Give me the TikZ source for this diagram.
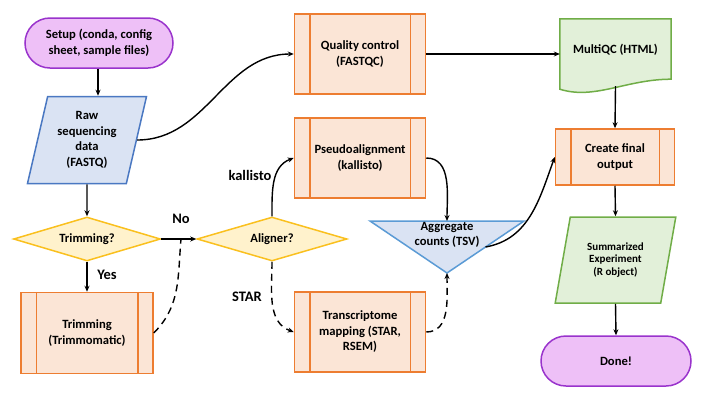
\documentclass[tikz,border=0pt]{standalone}
\usepackage{fontspec}
\setmainfont{Carlito}
\usetikzlibrary{shapes.geometric,shapes.misc,arrows.meta}
\definecolor{termfill}{RGB}{238,192,247}
\definecolor{termline}{RGB}{153,51,204}
\definecolor{datafill}{RGB}{218,227,243}
\definecolor{dataline}{RGB}{74,120,194}
\definecolor{askfill}{RGB}{255,242,204}
\definecolor{askline}{RGB}{250,192,30}
\definecolor{procfill}{RGB}{251,229,214}
\definecolor{procline}{RGB}{237,125,49}
\definecolor{greenfill}{RGB}{226,240,217}
\definecolor{greenline}{RGB}{112,173,71}
\definecolor{aggline}{RGB}{91,155,213}
\begin{document}
\begin{tikzpicture}[x=1pt,y=-1pt,
  every node/.style={font=\fontsize{12.6}{15.5}\selectfont\bfseries, align=center},
  box/.style={line width=1.5pt, inner sep=0pt},
  term/.style={box, rounded rectangle, draw=termline, fill=termfill},
  data/.style={box, trapezium, trapezium left angle=75, trapezium right angle=105, trapezium stretches=true},
  ask/.style={box, diamond, aspect=3, draw=askline, fill=askfill},
  proc/.style={box, rectangle, draw=procline, fill=procfill},
  lbl/.style={font=\fontsize{14.5}{16}\selectfont\bfseries},
  flow/.style={line width=1.4pt, ->},
  maybe/.style={flow, dash pattern=on 7pt off 5pt},
  >={Stealth[length=6pt,width=5pt]}]
  \useasboundingbox (0,0) rectangle (720,405);

  \node[term, minimum width=148, minimum height=50] (setup) at (99,43) {Setup (conda, config\\sheet, sample files)};
  \node[data, draw=dataline, fill=datafill, minimum width=120, minimum height=87] (raw) at (87,140) {Raw\\sequencing\\data\\(FASTQ)};
  \node[ask, minimum width=147, minimum height=44] (trimq) at (87,239) {Trimming?};
  \node[ask, minimum width=150, minimum height=44] (alignq) at (272,239) {Aligner?};
  \node[proc, minimum width=132, minimum height=81] (trim) at (87,333) {Trimming\\(Trimmomatic)};
  \node[proc, minimum width=131, minimum height=80] (qc) at (360,54) {Quality control\\(FASTQC)};
  \node[proc, minimum width=131, minimum height=80] (pseudo) at (360,158) {Pseudoalignment\\(kallisto)};
  \node[proc, minimum width=131, minimum height=80] (tx) at (360,332) {Transcriptome\\mapping (STAR,\\RSEM)};
  \node[proc, minimum width=119, minimum height=56] (final) at (615,157) {Create final\\output};
  \node[data, draw=greenline, fill=greenfill, minimum width=121, minimum height=86,
        font=\fontsize{11}{12.8}\selectfont\bfseries] (summ) at (615.5,260) {Summarized\\Experiment\\(R object)};
  \node[term, minimum width=150, minimum height=50] (done) at (616,361) {Done!};
  \foreach \n in {trim,qc,pseudo,tx,final}{
    \draw[procline, line width=1.5pt] ([xshift=16]\n.north west) -- ([xshift=16]\n.south west);
    \draw[procline, line width=1.5pt] ([xshift=-16]\n.north east) -- ([xshift=-16]\n.south east);
  }

  \node[minimum width=111, minimum height=67] (mqc) at (615.5,52.5) {};
  \draw[greenline, fill=greenfill, line width=1.5pt] (mqc.north west) -- (mqc.north east) -- ([yshift=7]mqc.south east)
    .. controls ([xshift=-45,yshift=7]mqc.south east) and ([xshift=35,yshift=-14]mqc.south west) .. ([yshift=-3]mqc.south west) -- cycle;
  \node (mqctext) at (615.5,50) {MultiQC (HTML)};

  \coordinate (aggtop) at (447,221);
  \coordinate (aggtip) at (447,273);
  \coordinate (aggright) at (485.5,247);
  \draw[aggline, fill=datafill, line width=1.5pt] (370,221) -- (524,221) -- (aggtip) -- cycle;
  \node (agg) at (447,235) {Aggregate\\counts (TSV)};

  \coordinate (nojoin) at (181,239);
  \draw[flow] (setup.south -| 98,0) -- (raw.north -| 98,0);
  \draw[flow] (raw.south) -- (trimq.north);
  \draw[flow] (trimq.south) -- (trim.north);
  \draw[flow] (trimq.east) -- (alignq.west);
  \draw[maybe, -] (trim.east) to[out=45, in=-95] (nojoin);
  \draw[flow] (raw.east) to[out=0, in=180] (qc.west);
  \draw[flow] (qc.east) -- (qc.east -| mqc.west);
  \draw[flow] (alignq.north) to[out=90, in=200] (pseudo.west);
  \draw[maybe] (alignq.south) to[out=-90, in=160] (tx.west);
  \draw[flow] (pseudo.east) to[out=0, in=90] (aggtop);
  \draw[maybe] (tx.east) to[out=0, in=-90] (aggtip);
  \draw[flow] (aggright) to[out=10, in=250] (final.west);
  \draw[flow] (mqc.south) -- (final.north);
  \draw[flow] (final.south) -- (summ.north);
  \draw[flow] (summ.south) -- (done.north);

  \node[lbl] (yes) at (107,275) {Yes};
  \node[lbl] (no) at (181,219) {No};
  \node[lbl] (kal) at (250,175) {kallisto};
  \node[lbl] (star) at (247,297) {STAR};
\end{tikzpicture}
\end{document}
